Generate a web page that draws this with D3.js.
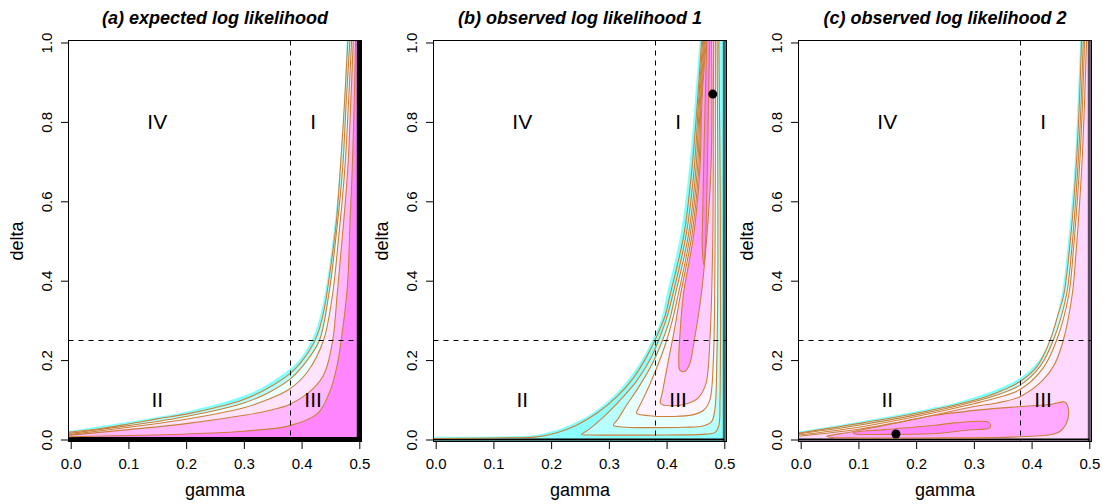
<!DOCTYPE html>
<html><head><meta charset="utf-8">
<script src="https://cdn.jsdelivr.net/npm/d3@7"></script>
<style>
body{margin:0;background:#fff}
svg{display:block}
text{font-family:"Liberation Sans",Arial,Helvetica,sans-serif;fill:#000}
</style>
</head><body>
<svg id="chart" width="1103" height="504"></svg>
<script>
// ---------- data ----------
const panelTitles = ["(a) expected log likelihood", "(b) observed log likelihood 1", "(c) observed log likelihood 2"];
const gammaTicks = [0, 0.1, 0.2, 0.3, 0.4, 0.5];
const deltaTicks = [0, 0.2, 0.4, 0.6, 0.8, 1.0];
const regionNames = ["IV", "I", "II", "III"];
const regionGamma = [0.15, 0.42, 0.15, 0.42];
const regionDelta = [0.8, 0.8, 0.1, 0.1];
const gammaCut = 0.38;
const deltaCut = 0.25;
const mleB = [0.48, 0.87];
const mleC = [0.165, 0.014];

// panel (a) contours  [gamma, delta]
const aEdge = [[0,0.022],[0.1,0.045],[0.2,0.07],[0.3,0.11],[0.34,0.138],[0.38,0.178],[0.4,0.208],[0.42,0.258],[0.43,0.3],[0.44,0.365],[0.45,0.46],[0.46,0.58],[0.467,0.7],[0.474,0.85],[0.478,1.0]];
const aC1 = [[0,0.019],[0.05,0.027],[0.1,0.039],[0.15,0.052],[0.2,0.064],[0.25,0.08],[0.3,0.101],[0.34,0.128],[0.38,0.166],[0.4,0.196],[0.42,0.24],[0.43,0.275],[0.44,0.335],[0.45,0.43],[0.46,0.545],[0.467,0.68],[0.474,0.84],[0.48,1.0]];
const aC2 = [[0,0.016],[0.1,0.035],[0.2,0.058],[0.3,0.092],[0.34,0.116],[0.38,0.152],[0.41,0.2],[0.431,0.25],[0.447,0.364],[0.458,0.49],[0.471,0.68],[0.477,0.84],[0.4835,1.0]];
const aC3 = [[0,0.013],[0.1,0.031],[0.2,0.051],[0.3,0.08],[0.34,0.1],[0.38,0.128],[0.41,0.17],[0.438,0.25],[0.4535,0.364],[0.463,0.49],[0.4748,0.68],[0.481,0.84],[0.4865,1.0]];
const aC4 = [[0,0.011],[0.1,0.025],[0.2,0.04],[0.3,0.061],[0.34,0.072],[0.38,0.089],[0.42,0.128],[0.44,0.168],[0.454,0.25],[0.4616,0.364],[0.47,0.5],[0.48,0.68],[0.485,0.84],[0.4894,1.0]];
const aC5 = [[0,0.007],[0.1,0.01],[0.2,0.014],[0.3,0.021],[0.38,0.035],[0.428,0.066],[0.45,0.125],[0.462,0.19],[0.474,0.31],[0.48,0.4],[0.484,0.55],[0.4877,0.68],[0.491,0.84],[0.4934,1.0]];

// panel (b) contours
const bEdge = [[0,0.007],[0.17,0.011],[0.2,0.02],[0.235,0.038],[0.27,0.065],[0.305,0.105],[0.333,0.15],[0.357,0.2],[0.375,0.25],[0.39,0.3],[0.4,0.364],[0.424,0.516],[0.439,0.684],[0.449,0.852],[0.457,1.0]];
const bC1 = [[0,0.0025],[0.1,0.004],[0.175,0.0067],[0.21,0.017],[0.244,0.036],[0.279,0.066],[0.314,0.108],[0.342,0.154],[0.366,0.21],[0.383,0.26],[0.397,0.31],[0.406,0.364],[0.43,0.516],[0.444,0.684],[0.4535,0.852],[0.4605,1.0]];
const bC2 = [[0.4625,1.0],[0.4555,0.852],[0.448,0.684],[0.434,0.516],[0.4106,0.364],[0.401,0.31],[0.389,0.26],[0.371,0.2],[0.347,0.145],[0.32,0.1],[0.29,0.056],[0.265,0.025],[0.253,0.013],[0.27,0.0115],[0.33,0.011],[0.4,0.0115],[0.46,0.013],[0.484,0.018],[0.4905,0.035],[0.4925,0.1],[0.4935,0.3],[0.493,0.6],[0.4905,1.0]];
const bC3 = [[0.464,1.0],[0.457,0.852],[0.451,0.684],[0.438,0.516],[0.415,0.364],[0.405,0.3],[0.393,0.25],[0.375,0.19],[0.353,0.135],[0.33,0.085],[0.315,0.05],[0.308,0.036],[0.33,0.031],[0.38,0.03],[0.43,0.031],[0.463,0.034],[0.478,0.045],[0.484,0.08],[0.487,0.2],[0.489,0.5],[0.4875,1.0]];
const bC4 = [[0.4655,1.0],[0.4585,0.852],[0.4535,0.684],[0.441,0.516],[0.42,0.364],[0.41,0.3],[0.398,0.24],[0.38,0.17],[0.362,0.11],[0.35,0.075],[0.348,0.066],[0.37,0.06],[0.41,0.058],[0.445,0.062],[0.465,0.075],[0.475,0.1],[0.481,0.2],[0.484,0.5],[0.4845,1.0]];
const bC5 = [[0.467,1.0],[0.4598,0.852],[0.4558,0.684],[0.444,0.516],[0.424,0.364],[0.414,0.28],[0.402,0.19],[0.393,0.12],[0.39,0.09],[0.41,0.085],[0.435,0.09],[0.455,0.105],[0.468,0.14],[0.475,0.25],[0.48,0.5],[0.481,0.852],[0.4815,1.0]];
const bC6 = [[0.4685,1.0],[0.4612,0.852],[0.4578,0.684],[0.447,0.516],[0.429,0.364],[0.423,0.26],[0.421,0.2],[0.423,0.175],[0.432,0.172],[0.44,0.19],[0.448,0.25],[0.46,0.364],[0.47,0.516],[0.477,0.684],[0.4785,0.852],[0.478,1.0]];
const bC7 = [[0.4695,1.0],[0.466,0.8],[0.463,0.6],[0.462,0.48],[0.4645,0.44],[0.467,0.48],[0.4695,0.6],[0.472,0.8],[0.4745,1.0]];

// panel (c) contours
const cEdge = [[0,0.021],[0.1,0.045],[0.2,0.071],[0.3,0.106],[0.38,0.155],[0.42,0.215],[0.44,0.29],[0.452,0.364],[0.462,0.48],[0.473,0.66],[0.479,0.82],[0.484,1.0]];
const cC1 = [[0,0.017],[0.1,0.04],[0.2,0.066],[0.3,0.099],[0.34,0.118],[0.38,0.146],[0.41,0.185],[0.432,0.25],[0.447,0.32],[0.4557,0.364],[0.465,0.47],[0.476,0.658],[0.482,0.82],[0.4865,1.0]];
const cC2 = [[0,0.015],[0.1,0.036],[0.2,0.062],[0.3,0.095],[0.34,0.112],[0.38,0.137],[0.415,0.185],[0.4376,0.25],[0.4604,0.364],[0.469,0.47],[0.479,0.658],[0.485,0.82],[0.4894,1.0]];
const cC3 = [[0,0.012],[0.1,0.031],[0.2,0.058],[0.3,0.09],[0.34,0.105],[0.38,0.126],[0.42,0.18],[0.4434,0.25],[0.4644,0.364],[0.472,0.47],[0.4818,0.658],[0.4875,0.82],[0.4917,1.0]];
const cC4 = [[0,0.009],[0.1,0.026],[0.2,0.052],[0.3,0.083],[0.34,0.092],[0.38,0.108],[0.42,0.15],[0.44,0.19],[0.455,0.25],[0.4703,0.364],[0.477,0.47],[0.4859,0.658],[0.491,0.82],[0.4951,1.0]];
const cC5 = [[0.045,0.008],[0.088,0.019],[0.146,0.036],[0.233,0.061],[0.32,0.076],[0.381,0.083],[0.435,0.089],[0.458,0.094],[0.464,0.075],[0.46,0.04],[0.445,0.017],[0.38,0.007],[0.2,0.004],[0.1,0.004],[0.055,0.005]];
const cC6 = [[0.091,0.017],[0.146,0.025],[0.233,0.036],[0.267,0.042],[0.326,0.043],[0.328,0.03],[0.29,0.024],[0.233,0.015],[0.146,0.013],[0.095,0.014]];

// ---------- styles ----------
const contourColor = "#CD7F3A";
const panels = [
  { edge: aEdge, edgeFill: "#80FFFF",
    fills: [[aC1,"open","#B4FFFF"],[aC2,"open","#EEFFFF"],[aC3,"open","#FFE4FF"],[aC4,"open","#FFB8FF"],[aC5,"open","#FF86FF"]],
    lines: [[aC1,"open"],[aC2,"open"],[aC3,"open"],[aC4,"open"],[aC5,"open"]],
    rightEdge: ["#000", 5], bottomEdge: ["#000", 5], point: null },
  { edge: bEdge, edgeFill: "#80FFFF",
    fills: [[bC1,"open","#8CFFFF"],[bC2,"u","#B8FFFF"],[bC3,"u","#E6FFFF"],[bC4,"u","#FFF4FF"],[bC5,"u","#FFD0FF"],[bC6,"u","#FF9CFF"],[bC7,"u","#FF80FF"]],
    lines: [[bC1,"open"],[bC2,"u"],[bC3,"u"],[bC4,"u"],[bC5,"u"],[bC6,"u"],[bC7,"u"]],
    rightEdge: ["#2E6B6B", 3], bottomEdge: ["#000", 2], point: mleB },
  { edge: cEdge, edgeFill: "#80FFFF",
    fills: [[cC1,"open","#C0FFFF"],[cC2,"open","#F4FFFF"],[cC3,"open","#FFF0FF"],[cC4,"open","#FFD8FF"],[cC5,"closed","#FFA8FF"],[cC6,"closed","#FF84FF"]],
    lines: [[cC1,"open"],[cC2,"open"],[cC3,"open"],[cC4,"open"],[cC5,"closed"],[cC6,"closed"]],
    rightEdge: ["#5A4A5A", 3], bottomEdge: ["#000", 2], point: mleC }
];

// ---------- drawing ----------
const svg = d3.select("#chart");
const GX = [-0.0038, 0.5038], DY = [-0.005, 1.005];
const snap = v => Math.floor(v) + 0.5;

panels.forEach((p, i) => {
  const off = i * 365;
  const x = d3.scaleLinear().domain(GX).range([68.5 + off, 361.5 + off]);
  const y = d3.scaleLinear().domain(DY).range([441.5, 40.5]);
  const g = svg.append("g");
  const clipId = "clip" + i;
  g.append("clipPath").attr("id", clipId).append("rect")
    .attr("x", x(GX[0])).attr("y", y(DY[1]))
    .attr("width", x(GX[1]) - x(GX[0])).attr("height", y(DY[0]) - y(DY[1]));
  const plot = g.append("g").attr("clip-path", `url(#${clipId})`);

  const curve = d3.line().x(d => x(d[0])).y(d => y(d[1])).curve(d3.curveCatmullRom.alpha(0.5));
  const closedCurve = d3.line().x(d => x(d[0])).y(d => y(d[1])).curve(d3.curveCatmullRomClosed.alpha(0.5));
  const L = pts => pts.map(d => "L" + x(d[0]) + "," + y(d[1])).join("");
  function fillPath(pts, kind) {
    const first = pts[0], last = pts[pts.length - 1];
    if (kind === "open") {
      return curve(pts) + L([[last[0], DY[1]], [GX[1], DY[1]], [GX[1], DY[0]], [GX[0], DY[0]], [GX[0], first[1]], first]) + "Z";
    } else if (kind === "u") {
      return curve(pts) + L([[last[0], DY[1]], [first[0], DY[1]]]) + "Z";
    }
    return closedCurve(pts);
  }
  function linePath(pts, kind) {
    if (kind === "closed") return closedCurve(pts);
    const first = pts[0], last = pts[pts.length - 1];
    if (kind === "open") return "M" + x(GX[0]) + "," + y(first[1]) + curve(pts).replace(/^M/, "L") + L([[last[0], DY[1]]]);
    return "M" + x(first[0]) + "," + y(DY[1]) + curve(pts).replace(/^M/, "L") + L([[last[0], DY[1]]]);
  }

  // image-like fills
  plot.append("path").attr("d", fillPath(p.edge, "open")).attr("fill", p.edgeFill);
  p.fills.forEach(f => plot.append("path").attr("d", fillPath(f[0], f[1])).attr("fill", f[2]));
  // boundary piles
  plot.append("line").attr("x1", x(0.5)).attr("x2", x(0.5)).attr("y1", y(DY[0])).attr("y2", y(DY[1]))
    .attr("stroke", p.rightEdge[0]).attr("stroke-width", p.rightEdge[1]);
  plot.append("line").attr("x1", x(GX[0])).attr("x2", x(0.5)).attr("y1", y(0)).attr("y2", y(0))
    .attr("stroke", p.bottomEdge[0]).attr("stroke-width", p.bottomEdge[1]);
  // contour lines
  p.lines.forEach(l => plot.append("path").attr("d", linePath(l[0], l[1]))
    .attr("fill", "none").attr("stroke", contourColor).attr("stroke-width", 1.1));

  // reference lines
  const vx = snap(x(gammaCut)), hy = snap(y(deltaCut));
  plot.append("line").attr("x1", vx).attr("x2", vx).attr("y1", y(DY[1])).attr("y2", y(DY[0]))
    .attr("stroke", "#000").attr("stroke-dasharray", "5,5").attr("stroke-width", 1);
  plot.append("line").attr("x1", x(GX[0])).attr("x2", x(GX[1])).attr("y1", hy).attr("y2", hy)
    .attr("stroke", "#000").attr("stroke-dasharray", "5,5").attr("stroke-width", 1);

  // region labels
  regionNames.forEach((t, k) => g.append("text").attr("x", x(regionGamma[k])).attr("y", y(regionDelta[k]) + 7.5)
    .attr("text-anchor", "middle").attr("font-size", 21).text(t));

  if (p.point) g.append("circle").attr("cx", x(p.point[0])).attr("cy", y(p.point[1])).attr("r", 4.5).attr("fill", "#000");

  // box
  g.append("rect").attr("x", x(GX[0])).attr("y", y(DY[1]))
    .attr("width", x(GX[1]) - x(GX[0])).attr("height", y(DY[0]) - y(DY[1]))
    .attr("fill", "none").attr("stroke", "#000").attr("stroke-width", 1);

  // axes
  const xa = g.append("g").attr("transform", `translate(0,${y(DY[0])})`)
    .call(d3.axisBottom(x).tickValues(gammaTicks).tickFormat(d3.format(".1f")).tickSize(7.5).tickPadding(9));
  xa.select(".domain").remove();
  xa.selectAll("text").attr("font-size", 15).attr("fill", "#000").attr("font-family", null);
  const ya = g.append("g").attr("transform", `translate(${x(GX[0])},0)`)
    .call(d3.axisLeft(y).tickValues(deltaTicks).tickFormat(d3.format(".1f")).tickSize(7.5));
  ya.select(".domain").remove();
  ya.selectAll("text").attr("font-size", 15).attr("fill", "#000").attr("font-family", null)
    .attr("x", null).attr("dy", null).attr("text-anchor", "middle").attr("transform", "translate(-17,0) rotate(-90)");

  // titles and axis labels
  const cx = (x(GX[0]) + x(GX[1])) / 2;
  g.append("text").attr("x", cx).attr("y", 24).attr("text-anchor", "middle")
    .attr("font-size", 18).attr("font-weight", "bold").attr("font-style", "italic").text(panelTitles[i]);
  g.append("text").attr("x", cx).attr("y", 495.5).attr("text-anchor", "middle").attr("font-size", 18).text("gamma");
  g.append("text").attr("transform", `translate(${23 + off},${(y(DY[0]) + y(DY[1])) / 2}) rotate(-90)`)
    .attr("text-anchor", "middle").attr("font-size", 18).text("delta");
});
</script>
</body></html>
